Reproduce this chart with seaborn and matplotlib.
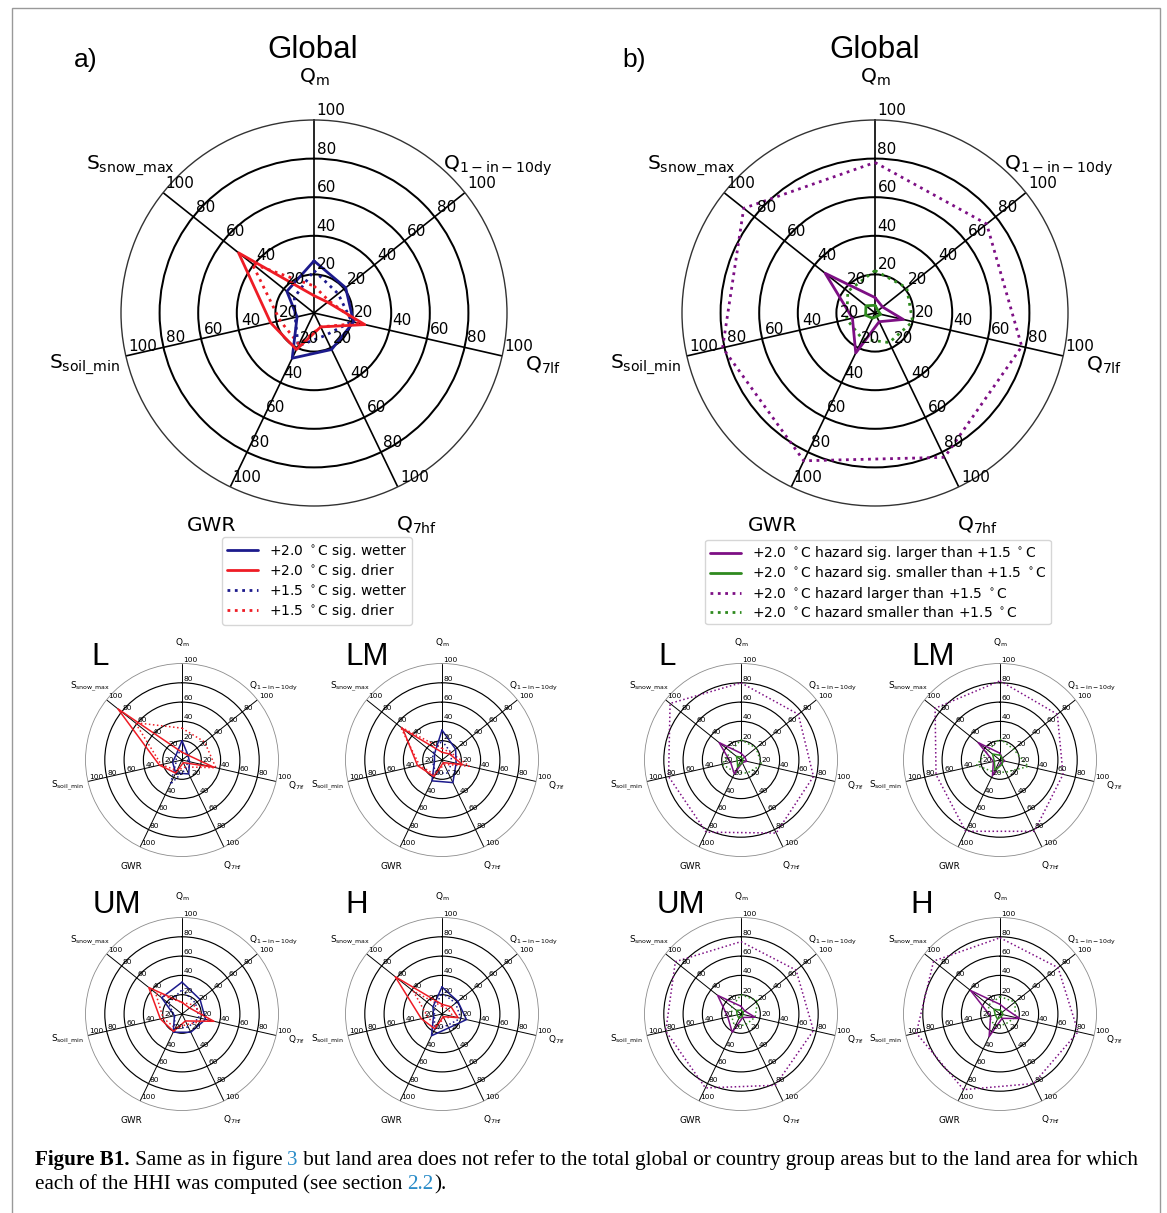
import numpy as np
import matplotlib
matplotlib.use('Agg')
import matplotlib.pyplot as plt
import matplotlib.transforms as mtransforms
from matplotlib.lines import Line2D
from matplotlib.patches import Rectangle
import seaborn as sns

sns.set_style('white')
plt.rcParams['font.family'] = ['DejaVu Sans']
plt.rcParams['mathtext.fontset'] = 'dejavusans'
plt.rcParams['mathtext.default'] = 'regular'
plt.rcParams['text.color'] = 'black'

# hazard indicators, clockwise from top
variables = ['$Q_m$', '$Q_{1-in-10dy}$', '$Q_{7lf}$', '$Q_{7hf}$', 'GWR',
             '$S_{soil\\_min}$', '$S_{snow\\_max}$']
ticks = [20, 40, 60, 80, 100]
groups = ['L', 'LM', 'UM', 'H']

# a) % of land area with significant wetting / drying
wet20 = {'Global': [27, 21, 21, 21, 26, 9, 18],
         'L': [20, 8, 8, 16, 15, 10, 8],
         'LM': [31, 18, 15, 26, 24, 8, 10],
         'UM': [33, 24, 25, 21, 21, 8, 27],
         'H': [28, 21, 26, 16, 25, 9, 12]}
dry20 = {'Global': [9, 9, 27, 8, 21, 23, 50],
         'L': [8, 8, 34, 3, 15, 24, 85],
         'LM': [8, 10, 22, 3, 19, 26, 52],
         'UM': [12, 10, 34, 8, 20, 23, 44],
         'H': [10, 12, 17, 3, 17, 22, 62]}
wet15 = {'Global': [22, 16, 20, 13, 19, 10, 13],
         'L': [10, 8, 6, 10, 28, 6, 8],
         'LM': [20, 12, 10, 15, 15, 10, 12],
         'UM': [25, 18, 18, 15, 17, 8, 18],
         'H': [22, 18, 20, 13, 18, 8, 10]}
dry15 = {'Global': [14, 10, 24, 8, 18, 18, 41],
         'L': [33, 30, 36, 8, 12, 22, 62],
         'LM': [12, 12, 29, 5, 17, 24, 55],
         'UM': [12, 15, 28, 12, 16, 20, 35],
         'H': [8, 8, 12, 5, 14, 15, 38]}

# b) % of land area where +2.0 C hazard is larger / smaller than +1.5 C
sig_larger = {'Global': [8, 5, 15, 5, 23, 12, 33],
              'L': [7, 5, 6, 3, 16, 11, 29],
              'LM': [7, 3, 5, 3, 18, 7, 29],
              'UM': [8, 5, 15, 4, 21, 14, 31],
              'H': [10, 8, 21, 5, 26, 10, 39]}
sig_smaller = {'Global': [4, 2, 3, 2, 3, 5, 6],
               'L': [3, 2, 2, 3, 8, 4, 6],
               'LM': [5, 3, 3, 5, 12, 6, 10],
               'UM': [4, 3, 2, 3, 5, 4, 6],
               'H': [4, 3, 3, 3, 6, 5, 8]}
larger = {'Global': [78, 74, 78, 83, 85, 81, 87],
          'L': [80, 76, 77, 84, 83, 77, 94],
          'LM': [82, 76, 67, 82, 82, 68, 86],
          'UM': [75, 73, 77, 82, 85, 80, 87],
          'H': [79, 77, 83, 80, 87, 89, 88]}
smaller = {'Global': [22, 21, 20, 17, 15, 15, 18],
           'L': [21, 20, 22, 15, 14, 20, 14],
           'LM': [22, 18, 30, 14, 14, 25, 16],
           'UM': [20, 22, 15, 12, 15, 10, 12],
           'H': [18, 20, 16, 12, 13, 12, 15]}

labels_a = ['+2.0 $^\\circ$C sig. wetter', '+2.0 $^\\circ$C sig. drier',
            '+1.5 $^\\circ$C sig. wetter', '+1.5 $^\\circ$C sig. drier']
labels_b = ['+2.0 $^\\circ$C hazard sig. larger than +1.5 $^\\circ$C',
            '+2.0 $^\\circ$C hazard sig. smaller than +1.5 $^\\circ$C',
            '+2.0 $^\\circ$C hazard larger than +1.5 $^\\circ$C',
            '+2.0 $^\\circ$C hazard smaller than +1.5 $^\\circ$C']

c_wet, c_dry = '#1c1a8c', '#ee1c25'
c_pur, c_grn = '#7d0f84', '#2f8a1f'

W, H = 1167, 1213
fig = plt.figure(figsize=(W / 100, H / 100), dpi=100)
theta = np.linspace(0, 2 * np.pi, len(variables) + 1)


def radar(cx, cy, R, small):
    s = R / 193
    ax = fig.add_axes([(cx - R) / W, 1 - (cy + R) / H, 2 * R / W, 2 * R / H], polar=True)
    ax.set_theta_offset(np.pi / 2)
    ax.set_theta_direction(-1)
    ax.set_xticks(theta[:-1])
    ax.set_xticklabels([])
    ax.set_yticks([20, 40, 60, 80])
    ax.set_yticklabels([])
    ax.xaxis.grid(True, color='black', lw=1.0 * s + 0.2)
    ax.yaxis.grid(True, color='black', lw=1.2 * s + 0.25)
    ax.spines['polar'].set_linewidth(0.8 * s + 0.2)
    ax.spines['polar'].set_color('0.2' if not small else '0.55')
    tfs = 5.4 if small else 11
    lfs = 6.4 if small else 14.5
    off = mtransforms.offset_copy(ax.transData, fig=fig, x=2.5 * s, y=2 * s, units='dots')
    for th in theta[:-1]:
        for t in ticks:
            ax.text(th, t, str(t), transform=off, ha='left', va='bottom',
                    fontsize=tfs, clip_on=False)
    for th, lab in zip(theta[:-1], variables):
        ax.text(th, 122, lab, ha='center', va='center', fontsize=lfs, clip_on=False)
    return ax, s


def series(ax, vals, color, ls, lw):
    v = list(vals) + [vals[0]]
    sns.lineplot(x=theta, y=v, ax=ax, color=color, linestyle=ls, linewidth=lw,
                 sort=False, estimator=None)


def panel_a(ax, s, key):
    lw = 1.8 * s + 0.2
    series(ax, wet15[key], c_wet, ':', lw)
    series(ax, dry15[key], c_dry, ':', lw)
    series(ax, wet20[key], c_wet, '-', lw)
    series(ax, dry20[key], c_dry, '-', lw)
    ax.set_ylim(0, 100)
    ax.set_xlabel('')
    ax.set_ylabel('')


def panel_b(ax, s, key):
    lw = 1.8 * s + 0.2
    series(ax, larger[key], c_pur, ':', lw)
    series(ax, smaller[key], c_grn, ':', lw)
    series(ax, sig_larger[key], c_pur, '-', lw)
    series(ax, sig_smaller[key], c_grn, '-', lw)
    ax.set_ylim(0, 100)
    ax.set_xlabel('')
    ax.set_ylabel('')


def ftext(x, y, txt, **kw):
    fig.text(x / W, 1 - y / H, txt, ha='center', va='center', **kw)


# big global panels
ax, s = radar(314, 313, 193, False)
panel_a(ax, s, 'Global')
ax, s = radar(875, 313, 193, False)
panel_b(ax, s, 'Global')
ftext(313, 50, 'Global', fontsize=22.5, family='Liberation Sans')
ftext(875, 50, 'Global', fontsize=22.5, family='Liberation Sans')
ftext(86, 60, 'a)', fontsize=19, family='Liberation Sans')
ftext(634, 60, 'b)', fontsize=19, family='Liberation Sans')

# small country-group panels
small_pos = {'L': (0, 760), 'LM': (1, 760), 'UM': (0, 1014), 'H': (1, 1014)}
title_pos_a = {'L': (100, 657), 'LM': (367, 657), 'UM': (117, 905), 'H': (357, 905)}
title_pos_b = {'L': (667, 657), 'LM': (933, 657), 'UM': (681, 905), 'H': (922, 905)}
for g in groups:
    col, cy = small_pos[g]
    ax, s = radar([182, 442][col], cy, 96.5, True)
    panel_a(ax, s, g)
    ax, s = radar([741, 1000][col], cy, 96.5, True)
    panel_b(ax, s, g)
    ftext(*title_pos_a[g], g, fontsize=22.5, family='Liberation Sans')
    ftext(*title_pos_b[g], g, fontsize=22.5, family='Liberation Sans')

# legends
h_a = [Line2D([], [], color=c_wet, lw=2), Line2D([], [], color=c_dry, lw=2),
       Line2D([], [], color=c_wet, lw=2, ls=':'), Line2D([], [], color=c_dry, lw=2, ls=':')]
h_b = [Line2D([], [], color=c_pur, lw=2), Line2D([], [], color=c_grn, lw=2),
       Line2D([], [], color=c_pur, lw=2, ls=':'), Line2D([], [], color=c_grn, lw=2, ls=':')]
for h, labs, (lx, ly) in [(h_a, labels_a, (317, 581)), (h_b, labels_b, (878, 582))]:
    fig.legend(h, labs, loc='center', bbox_to_anchor=(lx / W, 1 - ly / H),
               fontsize=10, frameon=True, edgecolor='0.8', handlelength=2.2,
               labelspacing=0.15, borderpad=0.35, labelcolor='black')

# frame
fig.patches.append(Rectangle((12 / W, -0.01), (1160 - 12) / W, 1 - 8 / H + 0.01,
                             transform=fig.transFigure, fill=False,
                             edgecolor='0.6', lw=1.0))

# caption
renderer = fig.canvas.get_renderer()
link = '#2a8cc8'
line1 = [('Figure B1.', 'bold', 'black'), (' Same as in figure ', 'normal', 'black'),
         ('3', 'normal', link),
         (' but land area does not refer to the total global or country group areas but to the land area for which',
          'normal', 'black')]
line2 = [('each of the HHI was computed (see section ', 'normal', 'black'),
         ('2.2', 'normal', link), (').', 'normal', 'black')]


def caption_line(pieces, x0, y0, size, draw=True):
    x = x0
    for txt, weight, color in pieces:
        t = fig.text(x / W, 1 - y0 / H, txt, fontsize=size, fontweight=weight,
                     color=color, family='Liberation Serif', ha='left', va='baseline')
        x += t.get_window_extent(renderer).width
        if not draw:
            t.remove()
    return x - x0


w = caption_line(line1, 35, 1165, 13, draw=False)
size = 13 * (1137 - 35) / w
caption_line(line1, 35, 1165, size)
caption_line(line2, 35, 1189, size)

fig.savefig('out.png', dpi=100, facecolor='white')
